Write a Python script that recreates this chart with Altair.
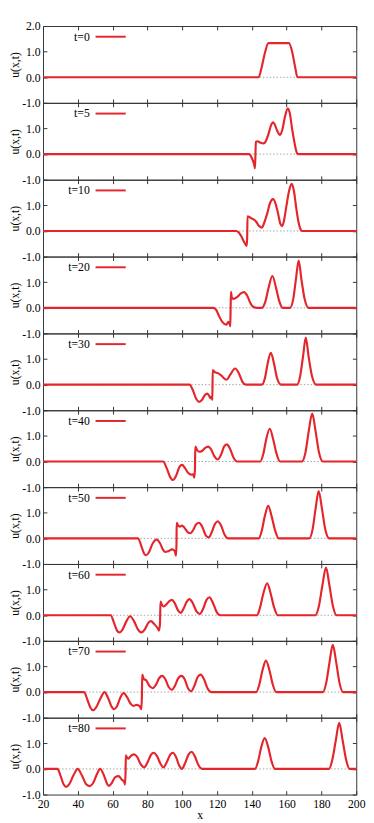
import altair as alt
import pandas as pd

times = [0, 5, 10, 20, 30, 40, 50, 60, 70, 80]

x_t0 = [20, 143.9, 145.5, 147.5, 149.5, 161.3, 163.3, 165, 166.2, 200]
u_t0 = [0, 0, 0.35, 0.95, 1.33, 1.33, 0.95, 0.35, 0, 0]

x_t5 = [20, 138.3, 140.0, 141.3, 141.8, 142.1, 142.3, 143.2, 144.8, 146.5, 147.5, 149.4, 151, 152.2, 153.2, 154.5,
        156.2, 157.5, 159, 160.6, 161.8, 163.2, 164.5, 165.5, 166.5, 200]
u_t5 = [0, 0, -0.15, -0.4, -0.55, 0.1, 0.48, 0.5, 0.45, 0.42, 0.45, 0.75, 1.12, 1.24, 1.15, 0.92,
        0.75, 0.95, 1.45, 1.78, 1.6, 0.95, 0.45, 0.12, 0, 0]

x_t10 = [20, 130.9, 132.5, 134, 135.5, 137, 137.3, 137.5, 138.5, 139.5, 141, 142.5, 144, 145.7, 147, 148.9, 150.5,
         152.2, 153.7, 155, 156.3, 157.3, 158.3, 159.8, 161.5, 162.9, 164.2, 165.5, 166.8, 168, 168.8, 200]
u_t10 = [0, 0, -0.06, -0.22, -0.42, -0.58, -0.3, 0.57, 0.55, 0.5, 0.45, 0.36, 0.2, 0.13, 0.3, 0.7, 1.1,
         1.24, 1.05, 0.7, 0.3, 0.19, 0.35, 0.95, 1.6, 1.84, 1.55, 0.9, 0.35, 0.06, 0, 0]

x_t20 = [20, 118, 119.5, 121, 123, 125.4, 126.5, 127.2, 127.6, 127.8, 128.0, 128.5, 129.2, 131.5, 133.5, 135.5,
         137.5, 139.2, 140.5, 142.9, 145.7, 147.8, 149.5, 151.8, 154, 155.8, 157.7, 161.9, 163.8, 165.3, 166.9,
         168.5, 170.3, 172.5, 200]
u_t20 = [0, 0, -0.08, -0.3, -0.55, -0.66, -0.55, -0.62, -0.72, 0.0, 0.62, 0.4, 0.35, 0.42, 0.55, 0.61,
         0.45, 0.18, 0.05, 0, 0, 0.25, 0.75, 1.24, 0.75, 0.25, 0, 0, 0.35, 1.1, 1.84,
         1.1, 0.35, 0, 0]

x_t30 = [20, 104.2, 106, 108, 109.7, 111.5, 113, 114.3, 115.3, 116.2, 117.0, 117.3, 117.5, 118.9, 120.5, 122.5,
         125.4, 127.5, 130.4, 132.5, 134.5, 136.5, 145.7, 147.5, 149, 150.9, 152.8, 154.5, 156.8, 166, 167.8,
         169.4, 171, 172.6, 174.5, 177.1, 200]
u_t30 = [0, 0, -0.2, -0.55, -0.67, -0.58, -0.4, -0.35, -0.42, -0.53, -0.45, -0.6, 0.57, 0.48, 0.45, 0.35,
         0.19, 0.38, 0.63, 0.45, 0.12, 0, 0, 0.25, 0.8, 1.24, 0.8, 0.25, 0, 0, 0.35,
         1.1, 1.84, 1.1, 0.35, 0, 0]

x_t40 = [20, 89, 91, 93, 94.6, 96.5, 98.5, 99.9, 101.5, 103.5, 105.1, 106.2, 106.9, 107.3, 107.5, 108.5, 109.7,
         111.5, 113, 114.9, 116.5, 118.5, 120.4, 122.5, 124, 125.6, 127.3, 129.5, 131.5, 144.8, 146.6, 148.2,
         150.3, 152.3, 154.2, 156.2, 168.8, 170.8, 172.6, 174.7, 176.7, 178.6, 180.8, 200]
u_t40 = [0, 0, -0.25, -0.6, -0.72, -0.55, -0.2, -0.13, -0.25, -0.45, -0.51, -0.5, -0.63, -0.3, 0.58, 0.45, 0.38,
         0.42, 0.52, 0.58, 0.48, 0.2, 0.08, 0.3, 0.58, 0.67, 0.52, 0.15, 0, 0, 0.3, 0.85,
         1.28, 0.85, 0.3, 0, 0, 0.35, 1.15, 1.87, 1.15, 0.35, 0, 0]

x_t50 = [20, 74.6, 76.5, 78, 79.2, 80.8, 83, 85.3, 87.3, 89, 90.3, 92, 94.2, 95.7, 96.4, 96.7, 96.8, 97.6, 98.6,
         99.8, 101.2, 103, 104.7, 106.5, 108, 109.7, 111.5, 113.5, 115.2, 117, 118.7, 120.4, 122.3, 124.3, 126.3,
         143.9, 145.7, 147.4, 149.4, 151.4, 153.4, 155.5, 173, 174.9, 176.6, 178.4, 180.3, 182.2, 184.5, 200]
u_t50 = [0, 0, -0.3, -0.58, -0.66, -0.55, -0.2, -0.05, -0.2, -0.45, -0.53, -0.5, -0.43, -0.5, -0.68, -0.2, 0.61,
         0.5, 0.46, 0.5, 0.42, 0.25, 0.2, 0.35, 0.55, 0.61, 0.45, 0.12, 0.04, 0.25, 0.55, 0.67, 0.5, 0.15, 0,
         0, 0.3, 0.85, 1.27, 0.85, 0.3, 0, 0, 0.35, 1.15, 1.85, 1.15, 0.35, 0, 0]

x_t60 = [20, 58.9, 60.8, 62.5, 63.9, 65.5, 67.8, 70, 72.2, 74.5, 76.5, 78.5, 80.5, 82, 84, 85.8, 86.6, 87.2, 87.5,
         88.3, 89.4, 91.2, 92.6, 94, 95.6, 97.5, 99, 100.7, 102.5, 104.2, 106, 108.2, 110.1, 112, 113.8, 115.6,
         117.4, 119.6, 121.7, 142.9, 144.7, 146.6, 148.8, 150.8, 152.8, 154.9, 176.5, 178.5, 180.5, 182.6,
         184.6, 186.6, 188.7, 200]
u_t60 = [0, 0, -0.3, -0.6, -0.67, -0.58, -0.25, -0.04, -0.22, -0.55, -0.67, -0.55, -0.3, -0.23, -0.35, -0.5, -0.6,
         -0.35, 0.53, 0.42, 0.34, 0.45, 0.55, 0.6, 0.48, 0.2, 0.09, 0.25, 0.52, 0.63, 0.48, 0.15, 0.05, 0.25,
         0.58, 0.7, 0.52, 0.15, 0, 0, 0.3, 0.85, 1.25, 0.85, 0.3, 0, 0, 0.35, 1.15, 1.86,
         1.15, 0.35, 0, 0]

x_t70 = [20, 43.6, 45.5, 47.2, 48.8, 50.5, 53, 55.3, 57.5, 59.5, 60.8, 62.5, 64.5, 66.3, 68.3, 70.3, 71.9, 73.8,
         75.5, 76.5, 76.8, 77.0, 78, 79.2, 81, 83, 85, 86.8, 88.5, 90.3, 92.2, 94, 95.8, 97.8, 99.6, 101.4,
         103.3, 105.1, 107, 108.8, 110.6, 112.5, 114.5, 116.7, 142.5, 144.3, 146.1, 148.1, 150.1, 152, 154,
         180.8, 182.7, 184.6, 186.5, 188.5, 190.4, 192.4, 200]
u_t70 = [0, 0, -0.3, -0.6, -0.71, -0.6, -0.25, 0.0, -0.25, -0.58, -0.67, -0.55, -0.2, -0.04, -0.2, -0.45, -0.54,
         -0.5, -0.55, -0.67, -0.2, 0.68, 0.5, 0.47, 0.25, 0.15, 0.3, 0.55, 0.63, 0.5, 0.2, 0.09, 0.25, 0.55,
         0.63, 0.5, 0.15, 0.03, 0.25, 0.58, 0.68, 0.5, 0.15, 0, 0, 0.3, 0.85, 1.23, 0.85, 0.3, 0,
         0, 0.35, 1.15, 1.84, 1.15, 0.35, 0, 0]

x_t80 = [20, 28.3, 30, 31.8, 33.3, 35, 37.5, 39.9, 42.3, 44.8, 46.8, 48.8, 51, 52.8, 55, 56.8, 57.8, 59.5, 61.5,
         63.4, 65.3, 66.6, 67.1, 67.4, 67.6, 68.2, 68.9, 70.4, 72, 73.8, 76, 78.1, 80, 82, 83.7, 85.5, 87.5,
         89.2, 91, 93, 94.7, 96.5, 98.3, 99.7, 101.5, 103.5, 105.3, 107.2, 109.3, 111.4, 141.8, 143.6, 145.4,
         147.4, 149.4, 151.3, 153.3, 184.3, 186.2, 188.2, 190.2, 192.2, 194.2, 196.2, 200]
u_t80 = [0, 0, -0.25, -0.6, -0.7, -0.6, -0.25, 0.0, -0.25, -0.6, -0.67, -0.55, -0.2, 0.0, -0.25, -0.58, -0.66,
         -0.55, -0.32, -0.28, -0.42, -0.5, -0.61, -0.2, 0.53, 0.45, 0.4, 0.5, 0.57, 0.5, 0.2, 0.06, 0.25, 0.55,
         0.63, 0.5, 0.2, 0.06, 0.25, 0.55, 0.63, 0.45, 0.12, 0.0, 0.2, 0.55, 0.67, 0.5, 0.15, 0, 0, 0.3,
         0.85, 1.2, 0.85, 0.3, 0, 0, 0.35, 1.1, 1.8, 1.1, 0.35, 0, 0]

xs = [x_t0, x_t5, x_t10, x_t20, x_t30, x_t40, x_t50, x_t60, x_t70, x_t80]
us = [u_t0, u_t5, u_t10, u_t20, u_t30, u_t40, u_t50, u_t60, u_t70, u_t80]
x_ticks = [20, 40, 60, 80, 100, 120, 140, 160, 180, 200]

W = 322
H = 79
RED = "#e4252b"
FONT = "Liberation Serif"
EDGE = "#333333"

xscale = alt.Scale(domain=[20, 200], nice=False, zero=False)
yscale = alt.Scale(domain=[-1, 2], nice=False, zero=False)
label_expr = "datum.value < 0 ? '-' + format(-datum.value, '.1f') : format(datum.value, '.1f')"


def panel(i):
    first = i == 0
    last = i == len(times) - 1
    yvals = [-1, 0, 1, 2] if first else [-1, 0, 1]
    df = pd.DataFrame({"x": xs[i], "u": us[i]})
    base = alt.Chart(df)

    if last:
        xaxis = alt.Axis(orient="bottom", values=x_ticks, ticks=False, domain=False, grid=False,
                         labelPadding=4, labelFlush=False, title="x", titlePadding=1)
    else:
        xaxis = None

    zero = alt.Chart(pd.DataFrame({"z": [0]})).mark_rule(
        color="#8a8a8a", strokeDash=[1.5, 2], strokeWidth=0.8
    ).encode(y=alt.Y("z:Q", scale=yscale, axis=None))

    line = base.mark_line(color=RED, strokeWidth=2.2, interpolate="monotone").encode(
        x=alt.X("x:Q", scale=xscale, axis=xaxis),
        y=alt.Y("u:Q", scale=yscale,
                axis=alt.Axis(orient="left", values=yvals, labelExpr=label_expr, ticks=False,
                              domain=False, grid=False, title="u(x,t)", titlePadding=0, labelPadding=3)),
    )

    ticks_a = base.mark_line(opacity=0).encode(
        x=alt.X("x:Q", scale=xscale,
                axis=alt.Axis(orient="bottom", offset=-H, values=x_ticks, labels=False, domain=False,
                              grid=False, tickSize=4, title=None)),
        y=alt.Y("u:Q", scale=yscale,
                axis=alt.Axis(orient="right", offset=-W, values=yvals, labels=False, domain=False,
                              grid=False, tickSize=4, title=None)),
    )
    ticks_b = base.mark_line(opacity=0).encode(
        x=alt.X("x:Q", scale=xscale,
                axis=alt.Axis(orient="top", offset=-H, values=x_ticks, labels=False, domain=False,
                              grid=False, tickSize=4, title=None)),
        y=alt.Y("u:Q", scale=yscale,
                axis=alt.Axis(orient="left", offset=-W, values=yvals, labels=False, domain=False,
                              grid=False, tickSize=4, title=None)),
    )

    leg = alt.Chart(pd.DataFrame({"label": [f"t={times[i]}"]}))
    text = leg.mark_text(align="right", baseline="middle", font=FONT, fontSize=12, color="black").encode(
        text="label:N", x=alt.value(48), y=alt.value(11)
    )
    sample = leg.mark_rule(color=RED, strokeWidth=2).encode(
        x=alt.value(54), x2=alt.value(85), y=alt.value(11)
    )

    return alt.layer(zero, line, ticks_a, ticks_b, text, sample).resolve_axis(
        x="independent", y="independent"
    ).properties(width=W, height=H)


chart = alt.vconcat(*[panel(i) for i in range(len(times))], spacing=0, bounds="flush").configure_view(
    stroke=EDGE, strokeWidth=1
).configure_axis(
    labelFont=FONT, titleFont=FONT, labelFontSize=12, titleFontSize=12, titleFontWeight="normal",
    labelColor="black", titleColor="black", tickColor=EDGE, tickWidth=1
).properties(
    padding={"top": 0, "left": 0, "right": 0, "bottom": 0}, background="white"
)

chart.save("out.html", embed_options={"renderer": "svg", "actions": False})
